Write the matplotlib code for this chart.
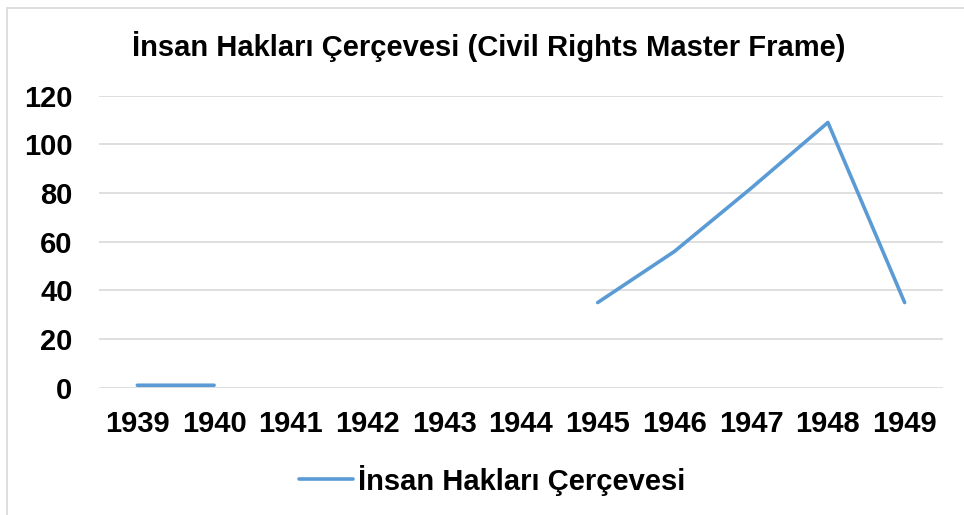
import numpy as np
import matplotlib.pyplot as plt
from matplotlib.patches import Rectangle

years = ['1939', '1940', '1941', '1942', '1943', '1944', '1945', '1946', '1947', '1948', '1949']
values = [1, 1, np.nan, np.nan, np.nan, np.nan, 35, 56, 82, 109, 35]
series_name = 'İnsan Hakları Çerçevesi'
title = 'İnsan Hakları Çerçevesi (Civil Rights Master Frame)'

plt.rcParams['font.family'] = ['Liberation Sans', 'DejaVu Sans']

fig = plt.figure(figsize=(9.64, 5.15), dpi=100)
W, H = 964, 515
ax = fig.add_axes([99 / W, 1 - 387.7 / H, (943 - 99) / W, (387.7 - 95.7) / H])

x = np.arange(len(years))
ax.plot(x, values, color='#5B9BD5', linewidth=2.6, solid_capstyle='round', label=series_name)

ax.set_xlim(-0.5, len(years) - 0.5)
ax.set_ylim(0, 120)
ax.set_yticks(range(0, 121, 20))
ax.set_xticks(x)
ax.set_xticklabels(years)
ax.tick_params(axis='both', length=0, labelsize=21)
ax.tick_params(axis='x', pad=16)
ax.tick_params(axis='y', pad=19)
for lbl in ax.get_xticklabels() + ax.get_yticklabels():
    lbl.set_fontweight('bold')

ax.grid(axis='y', color='#D9D9D9', linewidth=1.2)
ax.set_axisbelow(True)
for s in ax.spines.values():
    s.set_visible(False)

fig.text(489 / W, 1 - 47 / H, title, ha='center', va='center', fontsize=21, fontweight='bold')

leg = fig.legend(loc='center', bbox_to_anchor=(492 / W, 1 - 480 / H), frameon=False,
                 prop={'size': 21, 'weight': 'bold'}, handlelength=1.85, handletextpad=0.17)

fig.patches.append(Rectangle((7 / W, -0.05), 1.0, 1 - 8 / H + 0.05, transform=fig.transFigure,
                             fill=False, edgecolor='#D9D9D9', linewidth=1.2))

fig.savefig('out.png', dpi=100)
